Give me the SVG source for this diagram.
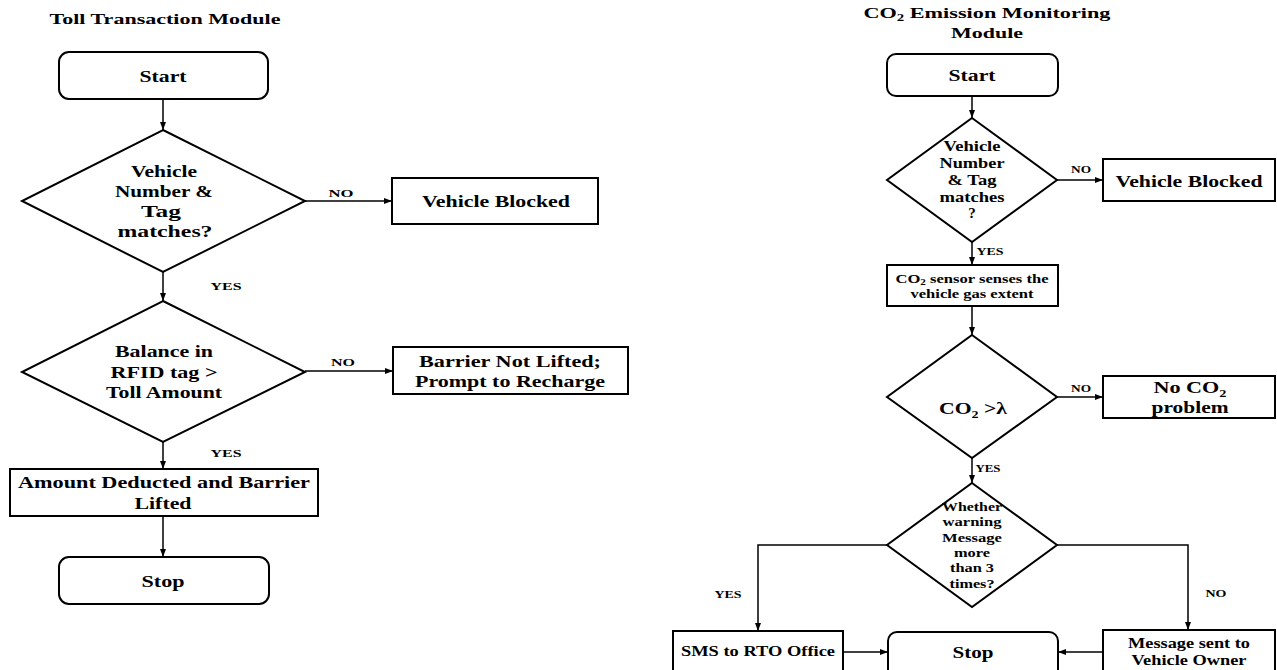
<svg xmlns="http://www.w3.org/2000/svg" width="1277" height="670" viewBox="0 0 1277 670" font-family="'Liberation Serif', 'Times New Roman', serif">
<defs>
<style>
text{font-family:'Liberation Serif','Times New Roman',serif;font-weight:700;fill:#000;text-anchor:middle}
.box{fill:#fff;stroke:#000;stroke-width:2}
.ln{fill:none;stroke:#000;stroke-width:1.5}
.t17{font-size:17px}
.t15{font-size:15px}
.t13{font-size:13px}
.t12{font-size:12px}
.lab{font-size:11px}
</style>
<marker id="ah" viewBox="0 0 8 6" refX="8" refY="3" markerWidth="8" markerHeight="6" markerUnits="userSpaceOnUse" orient="auto">
<path d="M0,0 L8,3 L0,6 z" fill="#000"/>
</marker>
</defs>
<rect width="1277" height="670" fill="#fff"/>

<!-- Left flowchart -->
<g id="title-left"><text class="t15" x="165" y="24" textLength="231" lengthAdjust="spacingAndGlyphs">Toll Transaction Module</text></g>
<g id="l-start"><rect class="box" x="59" y="52" width="209" height="47" rx="10"/><text class="t17" x="163" y="82" textLength="47" lengthAdjust="spacingAndGlyphs">Start</text></g>
<g id="l-d1"><polygon class="box" points="163,130 305,201 163,272 22,201"/>
<text class="t17" x="164" y="177" textLength="66" lengthAdjust="spacingAndGlyphs">Vehicle</text>
<text class="t17" x="164" y="197" textLength="98" lengthAdjust="spacingAndGlyphs">Number &amp;</text>
<text class="t17" x="161" y="217" textLength="40" lengthAdjust="spacingAndGlyphs">Tag</text>
<text class="t17" x="165" y="237" textLength="95" lengthAdjust="spacingAndGlyphs">matches?</text></g>
<g id="l-blocked"><rect class="box" x="392" y="178" width="206" height="46"/><text class="t17" x="496" y="207" textLength="148" lengthAdjust="spacingAndGlyphs">Vehicle Blocked</text></g>
<g id="l-d2"><polygon class="box" points="163,301 305,372 163,442 22,372"/>
<text class="t17" x="164" y="357" textLength="98" lengthAdjust="spacingAndGlyphs">Balance in</text>
<text class="t17" x="164" y="378" textLength="107" lengthAdjust="spacingAndGlyphs">RFID tag &gt;</text>
<text class="t17" x="164" y="398" textLength="116" lengthAdjust="spacingAndGlyphs">Toll Amount</text></g>
<g id="l-barrier"><rect class="box" x="393" y="347" width="235" height="47"/>
<text class="t17" x="510" y="367" textLength="182" lengthAdjust="spacingAndGlyphs">Barrier Not Lifted;</text>
<text class="t17" x="510" y="387" textLength="190" lengthAdjust="spacingAndGlyphs">Prompt to Recharge</text></g>
<g id="l-amount"><rect class="box" x="10" y="469" width="308" height="47"/>
<text class="t17" x="164" y="488" textLength="292" lengthAdjust="spacingAndGlyphs">Amount Deducted and Barrier</text>
<text class="t17" x="163" y="509" textLength="57" lengthAdjust="spacingAndGlyphs">Lifted</text></g>
<g id="l-stop"><rect class="box" x="59" y="557" width="210" height="47" rx="10"/><text class="t17" x="163" y="587" textLength="43" lengthAdjust="spacingAndGlyphs">Stop</text></g>

<!-- Right flowchart -->
<g id="title-right">
<text class="t15" x="987" y="18" textLength="247" lengthAdjust="spacingAndGlyphs">CO<tspan font-size="10" dy="3">2</tspan><tspan dy="-3"> Emission Monitoring</tspan></text>
<text class="t15" x="987" y="38" textLength="72" lengthAdjust="spacingAndGlyphs">Module</text></g>
<g id="r-start"><rect class="box" x="887" y="54" width="171" height="42" rx="9"/><text class="t17" x="972" y="81" textLength="47" lengthAdjust="spacingAndGlyphs">Start</text></g>
<g id="r-d1"><polygon class="box" points="972,118 1057,180 972,242 887,180"/>
<text class="t15" x="972" y="151" textLength="57" lengthAdjust="spacingAndGlyphs">Vehicle</text>
<text class="t15" x="972" y="168" textLength="65" lengthAdjust="spacingAndGlyphs">Number</text>
<text class="t15" x="972" y="185" textLength="49" lengthAdjust="spacingAndGlyphs">&amp; Tag</text>
<text class="t15" x="972" y="202" textLength="65" lengthAdjust="spacingAndGlyphs">matches</text>
<text class="t15" x="972" y="218">?</text></g>
<g id="r-blocked"><rect class="box" x="1103" y="159" width="172" height="42"/><text class="t17" x="1189" y="187" textLength="147" lengthAdjust="spacingAndGlyphs">Vehicle Blocked</text></g>
<g id="r-sensor"><rect class="box" x="887" y="265" width="171" height="41"/>
<text class="t12" x="972" y="283" textLength="153" lengthAdjust="spacingAndGlyphs">CO<tspan font-size="8" dy="2">2</tspan><tspan dy="-2"> sensor senses the</tspan></text>
<text class="t12" x="972" y="298" textLength="123" lengthAdjust="spacingAndGlyphs">vehicle gas extent</text></g>
<g id="r-d2"><polygon class="box" points="972,335 1057,397 972,458 887,397"/>
<text class="t17" x="973" y="414" textLength="68" lengthAdjust="spacingAndGlyphs">CO<tspan font-size="11" dy="4">2</tspan><tspan dy="-4"> &gt;λ</tspan></text></g>
<g id="r-noco2"><rect class="box" x="1103" y="376" width="172" height="42"/>
<text class="t17" x="1190" y="393" textLength="73" lengthAdjust="spacingAndGlyphs">No CO<tspan font-size="11" dy="4">2</tspan></text>
<text class="t17" x="1190" y="413" textLength="77" lengthAdjust="spacingAndGlyphs">problem</text></g>
<g id="r-d3"><polygon class="box" points="972,483 1057,545 972,607 887,545"/>
<text class="t13" x="972" y="511" textLength="60" lengthAdjust="spacingAndGlyphs">Whether</text>
<text class="t13" x="972" y="526" textLength="59" lengthAdjust="spacingAndGlyphs">warning</text>
<text class="t13" x="972" y="542" textLength="60" lengthAdjust="spacingAndGlyphs">Message</text>
<text class="t13" x="972" y="557" textLength="36" lengthAdjust="spacingAndGlyphs">more</text>
<text class="t13" x="972" y="572" textLength="44" lengthAdjust="spacingAndGlyphs">than 3</text>
<text class="t13" x="972" y="588" textLength="45" lengthAdjust="spacingAndGlyphs">times?</text></g>
<g id="r-sms"><rect class="box" x="673" y="631" width="170" height="50"/><text class="t15" x="758" y="656" textLength="154" lengthAdjust="spacingAndGlyphs">SMS to RTO Office</text></g>
<g id="r-stop"><rect class="box" x="888" y="632" width="170" height="50" rx="9"/><text class="t17" x="973" y="658" textLength="41" lengthAdjust="spacingAndGlyphs">Stop</text></g>
<g id="r-msg"><rect class="box" x="1103" y="630" width="172" height="50"/>
<text class="t15" x="1189" y="648" textLength="122" lengthAdjust="spacingAndGlyphs">Message sent to</text>
<text class="t15" x="1189" y="665" textLength="115" lengthAdjust="spacingAndGlyphs">Vehicle Owner</text></g>

<!-- Connectors -->
<g id="connectors">
<line class="ln" x1="163" y1="99" x2="163" y2="130" marker-end="url(#ah)"/>
<line class="ln" x1="305" y1="201" x2="392" y2="201" marker-end="url(#ah)"/>
<line class="ln" x1="163" y1="272" x2="163" y2="301" marker-end="url(#ah)"/>
<line class="ln" x1="305" y1="371" x2="393" y2="371" marker-end="url(#ah)"/>
<line class="ln" x1="163" y1="442" x2="163" y2="469" marker-end="url(#ah)"/>
<line class="ln" x1="163" y1="516" x2="163" y2="557" marker-end="url(#ah)"/>
<line class="ln" x1="972" y1="96" x2="972" y2="118" marker-end="url(#ah)"/>
<line class="ln" x1="1057" y1="180" x2="1103" y2="180" marker-end="url(#ah)"/>
<line class="ln" x1="972" y1="242" x2="972" y2="265" marker-end="url(#ah)"/>
<line class="ln" x1="972" y1="306" x2="972" y2="335" marker-end="url(#ah)"/>
<line class="ln" x1="1057" y1="397" x2="1103" y2="397" marker-end="url(#ah)"/>
<line class="ln" x1="972" y1="458" x2="972" y2="483" marker-end="url(#ah)"/>
<polyline class="ln" points="1057,545 1188,545 1188,630" marker-end="url(#ah)"/>
<polyline class="ln" points="887,545 758,545 758,631" marker-end="url(#ah)"/>
<line class="ln" x1="843" y1="652" x2="888" y2="652" marker-end="url(#ah)"/>
<line class="ln" x1="1103" y1="652" x2="1058" y2="652" marker-end="url(#ah)"/>
<g id="edge-labels">
<text class="lab" x="341" y="197" textLength="25" lengthAdjust="spacingAndGlyphs">NO</text>
<text class="lab" x="226" y="290" textLength="31" lengthAdjust="spacingAndGlyphs">YES</text>
<text class="lab" x="343" y="366" textLength="24" lengthAdjust="spacingAndGlyphs">NO</text>
<text class="lab" x="226" y="457" textLength="31" lengthAdjust="spacingAndGlyphs">YES</text>
<text class="lab" x="1081" y="173" font-size="10" textLength="20" lengthAdjust="spacingAndGlyphs">NO</text>
<text class="lab" x="990" y="255" font-size="10" textLength="27" lengthAdjust="spacingAndGlyphs">YES</text>
<text class="lab" x="1081" y="392" font-size="10" textLength="20" lengthAdjust="spacingAndGlyphs">NO</text>
<text class="lab" x="988" y="472" font-size="10" textLength="25" lengthAdjust="spacingAndGlyphs">YES</text>
<text class="lab" x="1216" y="597" font-size="10" textLength="21" lengthAdjust="spacingAndGlyphs">NO</text>
<text class="lab" x="728" y="598" font-size="10" textLength="27" lengthAdjust="spacingAndGlyphs">YES</text>
</g>
</g>
</svg>
